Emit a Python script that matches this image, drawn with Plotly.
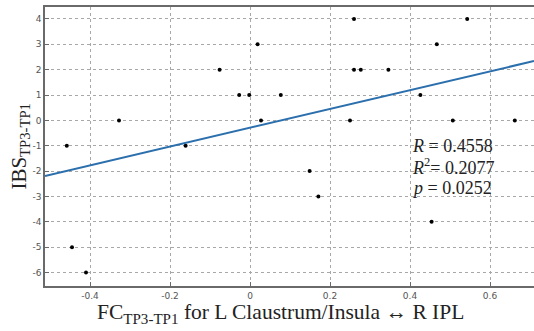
import plotly.graph_objects as go

# Data
fc_values = [-0.458, -0.445, -0.41, -0.3275, -0.161, -0.076, -0.027, -0.002, 0.019, 0.0275,
             0.077, 0.149, 0.171, 0.25, 0.26, 0.26, 0.277, 0.346, 0.426, 0.454,
             0.467, 0.507, 0.543, 0.662]
ibs_values = [-1, -5, -6, 0, -1, 2, 1, 1, 3, 0,
              1, -2, -3, 0, 4, 2, 2, 2, 1, -4,
              3, 0, 4, 0]
fit_x = [-0.5125, 0.71]
fit_y = [-2.19, 2.34]
x_ticks = [-0.4, -0.2, 0, 0.2, 0.4, 0.6]
x_tick_labels = ["-0.4", "-0.2", "0", "0.2", "0.4", "0.6"]
y_ticks = [-6, -5, -4, -3, -2, -1, 0, 1, 2, 3, 4]
y_tick_labels = ["-6", "-5", "-4", "-3", "-2", "-1", "0", "1", "2", "3", "4"]
stats_lines = ["<i>R</i> = 0.4558", "<i>R</i><sup>2</sup>= 0.2077", "<i>p</i> = 0.0252"]
stats_y = [-1.0, -1.8, -2.66]

serif = "Liberation Serif, Times New Roman, serif"

fig = go.Figure()
fig.add_trace(go.Scatter(x=fc_values, y=ibs_values, mode="markers",
                         marker=dict(color="black", size=4), showlegend=False))
fig.add_trace(go.Scatter(x=fit_x, y=fit_y, mode="lines",
                         line=dict(color="#2b6fad", width=2), showlegend=False))

axis_common = dict(showgrid=True, gridcolor="#a8a8a8", griddash="dot", gridwidth=1,
                   zeroline=False, showline=True, linecolor="#6a6a6a", linewidth=1.5,
                   ticks="inside", ticklen=4, tickcolor="#6a6a6a",
                   tickfont=dict(family="DejaVu Sans, Arial, sans-serif", size=9, color="#555555"))

fig.update_xaxes(range=[-0.5125, 0.71], tickvals=x_ticks, ticktext=x_tick_labels,
                 mirror=True, **axis_common)
fig.update_yaxes(range=[-6.53, 4.47], tickvals=y_ticks, ticktext=y_tick_labels,
                 mirror=False, **axis_common)

for txt, yy in zip(stats_lines, stats_y):
    fig.add_annotation(x=0.4, y=yy, xref="x", yref="y", text=txt, showarrow=False,
                       xanchor="left", yanchor="middle", align="left",
                       font=dict(family=serif, size=18, color="#222222"))

fig.add_annotation(x=0.4816, y=-0.043, xref="paper", yref="paper",
                   text="FC<sub>TP3-TP1</sub> for L Claustrum/Insula \u2194 R IPL",
                   showarrow=False, xanchor="center", yanchor="top",
                   font=dict(family=serif, size=21.5, color="#222222"))
fig.add_annotation(x=-0.053, y=0.5, xref="paper", yref="paper",
                   text="IBS<sub>TP3-TP1</sub>", textangle=-90,
                   showarrow=False, xanchor="center", yanchor="middle",
                   font=dict(family=serif, size=21, color="#222222"))

fig.update_layout(width=534, height=331, margin=dict(l=45, r=0, t=7, b=45),
                  plot_bgcolor="white", paper_bgcolor="white")

fig.write_html("out.html")
